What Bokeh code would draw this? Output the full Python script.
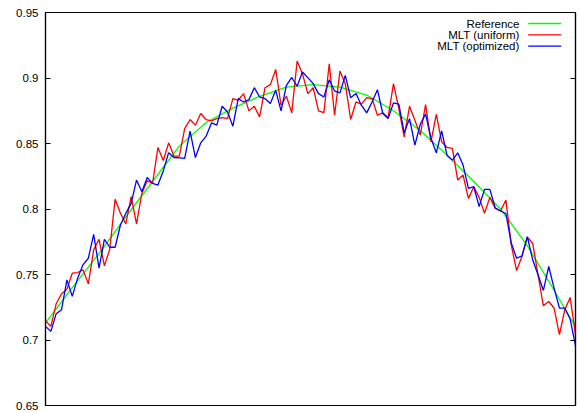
from bokeh.plotting import figure
from bokeh.models import Range1d, LinearAxis, FixedTicker, Label, Arrow
from bokeh.embed import file_html
from bokeh.resources import INLINE

# ---- data ----
y_ticks = [0.65, 0.70, 0.75, 0.80, 0.85, 0.90, 0.95]
y_tick_labels = ["0.65", "0.7", "0.75", "0.8", "0.85", "0.9", "0.95"]
series_names = ["Reference", "MLT (uniform)", "MLT (optimized)"]
series_colors = ["#00ff00", "#ff0000", "#0000ff"]

reference_x = [0, 5, 10, 15, 20, 25, 30, 35, 40, 45, 50, 55, 60, 65, 70, 75, 80, 85, 90, 95, 99]
reference_y = [0.713, 0.740, 0.766, 0.794, 0.821, 0.848, 0.866, 0.877, 0.886, 0.893, 0.895,
               0.893, 0.887, 0.875, 0.860, 0.841, 0.821, 0.800, 0.772, 0.738, 0.710]

mlt_uniform = [
    0.7147, 0.7104, 0.7277, 0.7353, 0.7388, 0.7510, 0.7515, 0.7536, 0.7429, 0.7688,
    0.7769, 0.7566, 0.7693, 0.8074, 0.7967, 0.7886, 0.8094, 0.7886, 0.8119, 0.8216,
    0.8196, 0.8470, 0.8370, 0.8505, 0.8404, 0.8404, 0.8614, 0.8683, 0.8640, 0.8729,
    0.8683, 0.8673, 0.8690, 0.8698, 0.8690, 0.8843, 0.8830, 0.8881, 0.8749, 0.8784,
    0.8703, 0.8926, 0.8949, 0.9066, 0.8792, 0.8861, 0.8734, 0.9129, 0.9033, 0.8881,
    0.8926, 0.8749, 0.8736, 0.9109, 0.8716, 0.9053, 0.8957, 0.8683, 0.8817, 0.8800,
    0.8850, 0.8843, 0.8716, 0.8734, 0.8698, 0.8957, 0.8766, 0.8551, 0.8784, 0.8678,
    0.8564, 0.8797, 0.8513, 0.8723, 0.8513, 0.8470, 0.8462, 0.8221, 0.8259, 0.8081,
    0.8170, 0.8089, 0.7967, 0.8089, 0.8005, 0.7985, 0.8069, 0.7726, 0.7530, 0.7637,
    0.7784, 0.7739, 0.7498, 0.7261, 0.7294, 0.7244, 0.7041, 0.7231, 0.7325, 0.7041,
]

mlt_optimized = [
    0.7104, 0.7066, 0.7201, 0.7231, 0.7459, 0.7333, 0.7472, 0.7574, 0.7624, 0.7807,
    0.7548, 0.7769, 0.7708, 0.7708, 0.7878, 0.7967, 0.8043, 0.8221, 0.8132, 0.8241,
    0.8196, 0.8183, 0.8290, 0.8430, 0.8393, 0.8390, 0.8386, 0.8594, 0.8393, 0.8505,
    0.8556, 0.8657, 0.8640, 0.8784, 0.8741, 0.8632, 0.8843, 0.8817, 0.8835, 0.8926,
    0.8855, 0.8843, 0.8805, 0.8906, 0.8749, 0.8944, 0.9004, 0.8937, 0.9046, 0.9003,
    0.8957, 0.8881, 0.8855, 0.8987, 0.8901, 0.8886, 0.9020, 0.8850, 0.8881, 0.8792,
    0.8734, 0.8817, 0.8911, 0.8729, 0.8690, 0.8810, 0.8800, 0.8581, 0.8690, 0.8487,
    0.8647, 0.8725, 0.8540, 0.8429, 0.8596, 0.8411, 0.8373, 0.8429, 0.8335, 0.8157,
    0.8170, 0.8018, 0.8150, 0.8150, 0.8010, 0.7985, 0.7965, 0.7740, 0.7624, 0.7642,
    0.7789, 0.7612, 0.7498, 0.7378, 0.7561, 0.7396, 0.7244, 0.7244, 0.7160, 0.6957,
]

x_index = list(range(len(mlt_uniform)))

FONT = "Liberation Sans"

p = figure(
    width=578, height=412,
    x_range=Range1d(0, len(mlt_uniform) - 1),
    y_range=Range1d(y_ticks[0], y_ticks[-1]),
    x_axis_location=None,
    output_backend="svg", toolbar_location=None,
    min_border_left=45, min_border_right=3, min_border_top=12, min_border_bottom=7,
)
p.background_fill_color = "white"
p.border_fill_color = "white"
p.outline_line_color = "black"
p.outline_line_width = 1.2
p.grid.visible = False

def style_axis(ax, labels):
    ax.ticker = FixedTicker(ticks=y_ticks, minor_ticks=[])
    ax.major_label_overrides = labels
    ax.major_tick_in = 5
    ax.major_tick_out = 0
    ax.minor_tick_line_color = None
    ax.axis_line_color = "black"
    ax.axis_line_width = 1.2
    ax.major_tick_line_color = "black"
    ax.major_label_text_font = FONT
    ax.major_label_text_font_size = "11.5px"
    ax.major_label_text_color = "black"

yl = p.yaxis[0]
style_axis(yl, {t: s for t, s in zip(y_ticks, y_tick_labels)})
yl.major_label_standoff = 7

yr = LinearAxis()
style_axis(yr, {t: "" for t in y_ticks})
yr.major_label_standoff = 0
p.add_layout(yr, "right")

LW = 1.3
p.line(reference_x, reference_y, line_color=series_colors[0], line_width=LW)
p.line(x_index, mlt_uniform, line_color=series_colors[1], line_width=LW)
p.line(x_index, mlt_optimized, line_color=series_colors[2], line_width=LW)

# gnuplot-style key: text right-aligned, sample line to its right (frame screen units)
key_text_right = 474
key_line_start = 482.7
key_line_end = 515.7
key_top = 382
key_row = 11.3
for k, (name, col) in enumerate(zip(series_names, series_colors)):
    yk = key_top - k * key_row
    p.add_layout(Label(x=key_text_right, y=yk, x_units="screen", y_units="screen",
                       text=name, text_align="right", text_baseline="middle",
                       text_font=FONT, text_font_size="11.5px", text_color="black"))
    p.add_layout(Arrow(end=None, x_start=key_line_start, y_start=yk,
                       x_end=key_line_end, y_end=yk,
                       start_units="screen", end_units="screen",
                       line_color=col, line_width=LW))

open("out.html", "w").write(file_html(p, INLINE))
